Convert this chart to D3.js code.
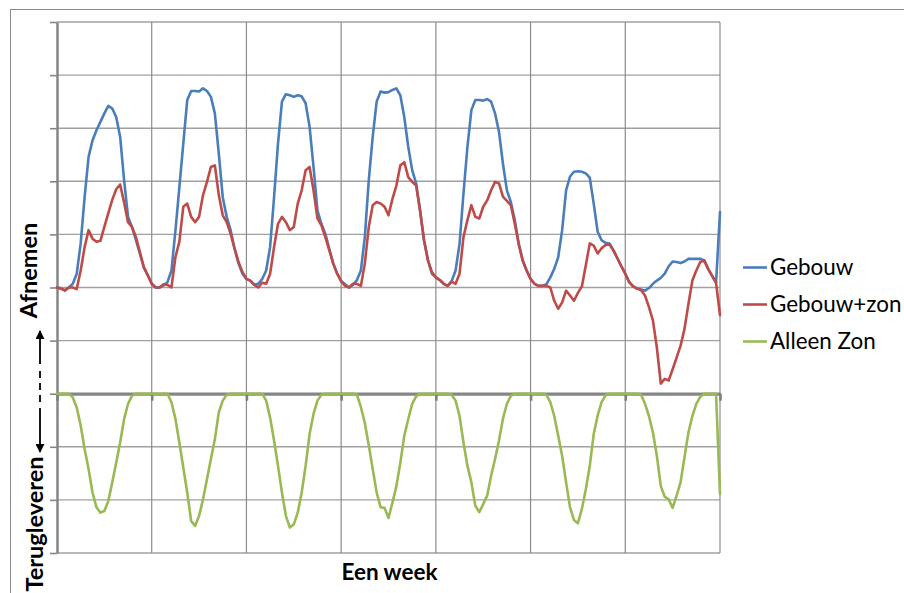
<!DOCTYPE html>
<html><head><meta charset="utf-8">
<script src="https://cdn.jsdelivr.net/npm/d3@7"></script>
<style>body{margin:0;background:#fff} svg{display:block}</style>
</head><body>
<svg id="c" width="904" height="593"></svg>
<script>
// ---- data (hourly values for one week, 169 points) ----
const dayTicks = [0, 24, 48, 72, 96, 120, 144, 168];
const yGrid = [-3, -2, -1, 0, 1, 2, 3, 4, 5, 6, 7];
const seriesNames = ["Gebouw", "Gebouw+zon", "Alleen Zon"];
const xTitle = "Een week";
const yTitleUp = "Afnemen";
const yTitleDown = "Terugleveren";

const gebouw = [
  2.0,1.98,1.95,2.0,2.07,2.26,2.83,3.7,4.46,4.77,4.96,5.12,5.28,5.42,5.37,5.21,4.84,4.02,3.33,3.14,2.89,2.64,2.38,2.23,
  2.07,2.0,2.0,2.04,2.1,2.32,3.06,3.88,4.71,5.53,5.70,5.70,5.69,5.75,5.70,5.59,5.28,4.52,3.70,3.33,3.08,2.73,2.45,2.26,
  2.16,2.13,2.05,2.07,2.16,2.32,2.76,3.70,4.71,5.50,5.64,5.62,5.59,5.62,5.60,5.47,5.03,4.27,3.45,3.20,3.01,2.73,2.45,2.26,
  2.12,2.06,2.0,2.05,2.14,2.32,2.95,4.02,4.84,5.50,5.69,5.67,5.68,5.72,5.75,5.62,5.21,4.65,4.21,3.96,3.45,2.89,2.51,2.26,
  2.19,2.14,2.07,2.03,2.12,2.32,2.82,3.77,4.65,5.34,5.53,5.53,5.52,5.55,5.50,5.28,4.93,4.33,3.83,3.61,3.27,2.82,2.51,2.32,
  2.16,2.07,2.03,2.03,2.06,2.19,2.35,2.57,3.08,3.83,4.09,4.18,4.19,4.18,4.15,4.07,3.58,3.05,2.89,2.84,2.83,2.70,2.55,2.40,
  2.26,2.1,2.02,1.98,1.96,1.94,1.99,2.07,2.13,2.18,2.26,2.4,2.49,2.48,2.46,2.49,2.54,2.54,2.54,2.54,2.51,2.35,2.22,2.09,
  3.42
];
const gebouwZon = [
  2.0,1.98,1.94,2.0,2.0,1.97,2.32,2.76,3.08,2.92,2.86,2.88,3.14,3.40,3.65,3.85,3.94,3.60,3.23,3.14,2.95,2.67,2.38,2.23,
  2.07,2.0,2.0,2.06,2.05,2.0,2.57,2.86,3.52,3.58,3.33,3.23,3.33,3.74,3.99,4.27,4.30,3.74,3.36,3.23,3.01,2.73,2.48,2.29,
  2.16,2.13,2.05,2.0,2.09,2.07,2.26,2.76,3.20,3.33,3.23,3.08,3.14,3.58,3.83,4.21,4.27,3.83,3.30,3.17,2.95,2.70,2.45,2.26,
  2.12,2.03,2.0,2.07,2.07,2.03,2.45,3.14,3.55,3.61,3.58,3.52,3.36,3.67,3.92,4.30,4.36,4.08,3.99,3.92,3.45,2.89,2.51,2.29,
  2.19,2.14,2.07,2.03,2.11,2.07,2.26,2.95,3.27,3.55,3.33,3.30,3.52,3.64,3.83,3.99,3.96,3.71,3.63,3.55,3.20,2.82,2.51,2.32,
  2.16,2.07,2.03,2.03,2.03,2.0,1.75,1.6,1.72,1.94,1.85,1.75,1.9,2.02,2.42,2.83,2.79,2.64,2.74,2.80,2.81,2.70,2.55,2.40,
  2.26,2.1,2.02,1.98,1.95,1.85,1.63,1.38,0.87,0.19,0.28,0.25,0.46,0.68,0.90,1.22,1.69,2.13,2.32,2.48,2.51,2.35,2.22,2.09,
  1.48
];
const alleenZon = [
  0,0,0,0,-0.07,-0.26,-0.6,-1.04,-1.42,-1.86,-2.14,-2.24,-2.21,-2.02,-1.67,-1.3,-0.92,-0.48,-0.19,-0.04,0,0,0,0,
  0,0,0,0,0,-0.16,-0.47,-0.92,-1.39,-1.86,-2.4,-2.49,-2.3,-1.99,-1.61,-1.23,-0.86,-0.35,-0.13,-0.02,0,0,0,0,
  0,0,0,0,0,-0.13,-0.45,-0.88,-1.36,-1.86,-2.3,-2.52,-2.46,-2.24,-1.86,-1.36,-0.76,-0.38,-0.13,-0.02,0,0,0,0,
  0,0,0,0,-0.02,-0.25,-0.55,-0.97,-1.42,-1.86,-2.14,-2.15,-2.34,-2.05,-1.74,-1.3,-0.79,-0.48,-0.19,-0.05,0,0,0,0,
  0,0,0,0,-0.02,-0.13,-0.42,-0.92,-1.36,-1.67,-2.11,-2.23,-2.08,-1.92,-1.55,-1.23,-0.88,-0.47,-0.19,-0.04,0,0,0,0,
  0,0,0,0,-0.02,-0.16,-0.42,-0.79,-1.17,-1.67,-2.14,-2.38,-2.44,-2.17,-1.8,-1.36,-0.76,-0.41,-0.16,-0.03,0,0,0,0,
  0,0,0,0,-0.02,-0.19,-0.42,-0.73,-1.17,-1.74,-1.94,-1.99,-2.15,-1.92,-1.67,-1.2,-0.73,-0.42,-0.19,-0.06,0,0,0,0,
  -1.89
];
const seriesData = [gebouw, gebouwZon, alleenZon];
const colors = ["#4A7EBB", "#BE4B48", "#98B954"];

// ---- layout ----
const svg = d3.select("#c");
const font = "Lato, 'Open Sans', sans-serif";
const x = d3.scaleLinear().domain([0, 168]).range([57, 720]);
const y = d3.scaleLinear().domain([-3, 7]).range([553, 22]);

// outer chart border (right/bottom edges fall outside the picture)
svg.append("rect").attr("x", 10.5).attr("y", 9.5).attr("width", 1000).attr("height", 1000)
  .attr("fill", "none").attr("stroke", "#8a8a8a").attr("stroke-width", 1);

// gridlines
svg.append("g").selectAll("line").data(yGrid).join("line")
  .attr("x1", x(0)).attr("x2", x(168))
  .attr("y1", d => y(d)).attr("y2", d => y(d))
  .attr("stroke", "#a0a0a0").attr("stroke-width", 1.4);
svg.append("g").selectAll("line").data(dayTicks.slice(1)).join("line")
  .attr("x1", d => x(d)).attr("x2", d => x(d))
  .attr("y1", y(7)).attr("y2", y(-3))
  .attr("stroke", "#8c8c8c").attr("stroke-width", 1.2);

// y axis
const yAxis = svg.append("g").attr("transform", `translate(${x(0)},0)`)
  .call(d3.axisLeft(y).tickValues(yGrid).tickSize(7).tickSizeOuter(0).tickFormat(""));
yAxis.select(".domain").attr("stroke", "#868686").attr("stroke-width", 2.5);
yAxis.selectAll(".tick line").attr("stroke", "#868686").attr("stroke-width", 1.6);

// x axis at zero
const xAxis = svg.append("g").attr("transform", `translate(0,${y(0)})`)
  .call(d3.axisBottom(x).tickValues(dayTicks).tickSize(7).tickSizeOuter(0).tickFormat(""));
xAxis.select(".domain").attr("stroke", "#868686").attr("stroke-width", 3.2);
xAxis.selectAll(".tick line").attr("stroke", "#7f7f7f").attr("stroke-width", 2.6);

// series lines
const line = d3.line().x((d, i) => x(i)).y(d => y(d));
seriesData.forEach((s, k) => {
  svg.append("path").datum(s).attr("d", line)
    .attr("fill", "none").attr("stroke", colors[k]).attr("stroke-width", 2.6)
    .attr("stroke-linejoin", "round").attr("stroke-linecap", "round");
});

// legend
const legY = [267.5, 304.5, 341.5];
const leg = svg.append("g").selectAll("g").data(seriesNames).join("g")
  .attr("transform", (d, i) => `translate(743,${legY[i]})`);
leg.append("line").attr("x1", 0).attr("x2", 24).attr("y1", 0).attr("y2", 0)
  .attr("stroke", (d, i) => colors[i]).attr("stroke-width", 2.6);
leg.append("text").attr("x", 27).attr("y", 7.5).text(d => d)
  .attr("font-family", font).attr("font-size", 22.4).attr("fill", "#000");

// axis titles
svg.append("text").attr("x", 389.5).attr("y", 580).attr("text-anchor", "middle")
  .attr("font-family", font).attr("font-weight", "bold").attr("font-size", 22.5).text(xTitle);
svg.append("text").attr("transform", "translate(37,270.5) rotate(-90)").attr("text-anchor", "middle")
  .attr("font-family", font).attr("font-weight", "bold").attr("font-size", 23.5).text(yTitleUp);
svg.append("text").attr("transform", "translate(43,524) rotate(-90)").attr("text-anchor", "middle")
  .attr("font-family", font).attr("font-weight", "bold").attr("font-size", 23.5).text(yTitleDown);

// arrows on the y title
const defs = svg.append("defs");
defs.append("marker").attr("id", "ah").attr("viewBox", "0 0 10 10").attr("refX", 9).attr("refY", 5)
  .attr("markerWidth", 5).attr("markerHeight", 5).attr("orient", "auto")
  .append("path").attr("d", "M0,0 L10,5 L0,10 Z").attr("fill", "#000");
svg.append("line").attr("x1", 40).attr("x2", 40).attr("y1", 364).attr("y2", 331)
  .attr("stroke", "#000").attr("stroke-width", 1.8).attr("marker-end", "url(#ah)");
svg.append("line").attr("x1", 40).attr("x2", 40).attr("y1", 371).attr("y2", 402)
  .attr("stroke", "#000").attr("stroke-width", 1.8).attr("stroke-dasharray", "7,5");
svg.append("line").attr("x1", 40).attr("x2", 40).attr("y1", 408).attr("y2", 452)
  .attr("stroke", "#000").attr("stroke-width", 1.8).attr("marker-end", "url(#ah)");
</script>
</body></html>
